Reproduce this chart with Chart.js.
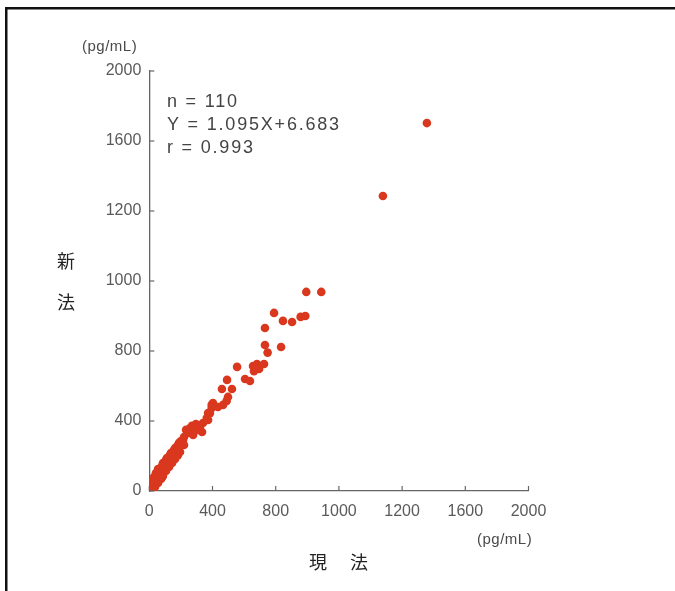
<!DOCTYPE html>
<html><head><meta charset="utf-8">
<script src="https://cdn.jsdelivr.net/npm/chart.js@4.4.1/dist/chart.umd.min.js"></script>
<style>html,body{margin:0;padding:0;background:#fff;overflow:hidden}#wrap{width:675px;height:591px;position:relative}</style>
</head><body><div id="wrap"><canvas id="c" width="675" height="591"></canvas></div>
<script>
// Tick labels as printed on the original (evenly spaced positions)
const xTickLabels = ['0','400','800','1000','1200','1600','2000'];
const yTickLabels = ['0','400','800','1000','1200','1600','2000'];
// Axis span in position units (linear scale 0..2000, 6 equal intervals)
const axisMax = 2000;
// 現法 (current method) values, in axis position units
const genpo = [1464,1232,828,907,658,705,753,798,823,610,610,624,695,605,547,568,579,552,563,463,505,531,410,383,436,
  415,408,389,362,336,329,329,320,310,303,310,283,267,
  183,204,215,231,252,246,225,278,194,
  178,167,173,157,162,151,146,136,141,130,125,114,120,109,104,93,99,88,83,72,78,67,62,56,46,51,35,46,41,25,35,30,14,25,20,4,14,9,4,14,30,46,62,72,88,104,120,136,151,162,183,109,56,41,83,9,20,1,93,141,72,114,151];
// 新法 (new method) values, in axis position units
const shinpo = [1752,1405,948,948,848,810,805,829,833,776,695,659,686,605,595,605,581,571,586,591,533,524,529,486,486,
  448,429,410,400,419,410,395,371,371,348,338,324,305,
  257,276,300,267,291,319,310,281,291,
  243,238,224,229,214,219,210,205,191,195,186,181,167,171,162,157,143,148,138,133,124,119,110,100,105,91,86,81,71,67,62,52,48,43,33,29,24,14,5,10,19,38,57,71,95,114,133,152,171,186,219,143,71,48,114,38,57,14,133,171,100,157,205];
const annotation = ['n = 110','Y = 1.095X+6.683','r = 0.993'];
const unitLabel = '(pg/mL)';
const xTitle = ['現','法'];
const yTitle = ['新','法'];

const tickPositions = xTickLabels.map((_, i) => axisMax * i / (xTickLabels.length - 1));
const points = genpo.map((x, i) => ({x: x, y: shinpo[i]}));

const decor = {
  id: 'decor',
  beforeDraw(chart) {
    const ctx = chart.ctx;
    ctx.save();
    ctx.fillStyle = '#fff';
    ctx.fillRect(0, 0, chart.width, chart.height);
    ctx.restore();
  },
  afterDraw(chart) {
    const ctx = chart.ctx;
    const xs = chart.scales.x, ys = chart.scales.y;
    ctx.save();
    // frame lines
    ctx.fillStyle = '#111';
    ctx.fillRect(5, 7, chart.width - 5, 2.5);
    ctx.fillRect(5, 7, 2.5, chart.height - 7);
    // inward ticks
    ctx.strokeStyle = '#666';
    ctx.lineWidth = 1.2;
    tickPositions.forEach(v => {
      const py = ys.getPixelForValue(v);
      ctx.beginPath(); ctx.moveTo(ys.right, py); ctx.lineTo(ys.right + 5, py); ctx.stroke();
      const px = xs.getPixelForValue(v);
      ctx.beginPath(); ctx.moveTo(px, xs.top); ctx.lineTo(px, xs.top - 5); ctx.stroke();
    });
    // units
    ctx.fillStyle = '#4a4a4a';
    ctx.font = '15px "Liberation Sans", Arial, sans-serif';
    ctx.textBaseline = 'middle';
    ctx.textAlign = 'left';
    ctx.letterSpacing = '0.5px';
    ctx.fillText(unitLabel, 82, 47);
    ctx.fillText(unitLabel, 477, 540);
    // annotation
    ctx.font = '18px "Liberation Sans", Arial, sans-serif';
    ctx.letterSpacing = '1.8px';
    ctx.fillStyle = '#444';
    annotation.forEach((t, i) => ctx.fillText(t, 167, 102 + i * 23));
    ctx.letterSpacing = '0px';
    // axis titles
    ctx.fillStyle = '#222';
    ctx.font = '18px "Noto Sans CJK JP", sans-serif';
    ctx.textAlign = 'center';
    ctx.fillText(xTitle[0], 318, 562);
    ctx.fillText(xTitle[1], 359, 562);
    ctx.fillText(yTitle[0], 66, 261);
    ctx.fillText(yTitle[1], 66, 302);
    ctx.restore();
  }
};

const tickFont = {family: '"Liberation Sans", Arial, sans-serif', size: 16};
new Chart(document.getElementById('c'), {
  type: 'scatter',
  data: {datasets: [{
    data: points,
    backgroundColor: '#d9381f',
    borderWidth: 0,
    pointRadius: 4.3,
    pointHoverRadius: 4.3
  }]},
  options: {
    responsive: false,
    animation: false,
    devicePixelRatio: 1,
    layout: {padding: {left: 0, top: 71, right: 146.5, bottom: 0}},
    plugins: {legend: {display: false}, tooltip: {enabled: false}},
    scales: {
      x: {
        type: 'linear', min: 0, max: axisMax,
        afterFit(s) { s.height = 100; },
        afterBuildTicks(s) { s.ticks = tickPositions.map(v => ({value: v})); },
        grid: {display: true, drawOnChartArea: false, drawTicks: false},
        border: {display: true, color: '#666', width: 1.3},
        ticks: {
          padding: 11, color: '#5a5a5a', font: tickFont, maxRotation: 0, autoSkip: false,
          callback: (v, i) => xTickLabels[i]
        }
      },
      y: {
        type: 'linear', min: 0, max: axisMax,
        afterFit(s) { s.width = 149.3; },
        afterBuildTicks(s) { s.ticks = tickPositions.map(v => ({value: v})); },
        grid: {display: true, drawOnChartArea: false, drawTicks: false},
        border: {display: true, color: '#666', width: 1.3},
        ticks: {
          padding: 8, color: '#5a5a5a', font: tickFont, autoSkip: false,
          callback: (v, i) => yTickLabels[i]
        }
      }
    }
  },
  plugins: [decor]
});
</script>
</body></html>
